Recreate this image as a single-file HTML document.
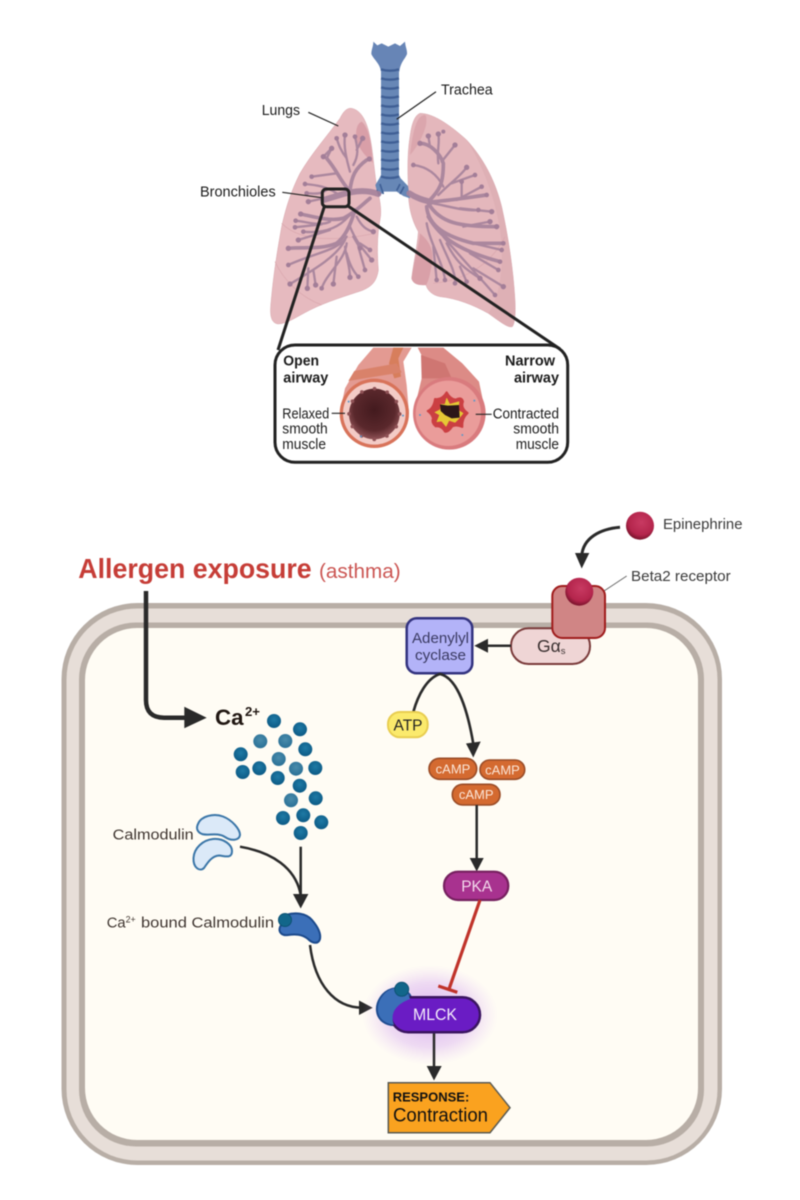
<!DOCTYPE html>
<html lang="en">
<head>
<meta charset="utf-8">
<title>Asthma airway signalling</title>
<style>
html,body{margin:0;padding:0;background:#fff;width:800px;height:1200px;overflow:hidden}
svg{display:block}
text{font-family:"Liberation Sans",sans-serif;fill:#1c1c1c}
.soft{filter:blur(.55px)}
.softer{filter:blur(.4px)}
</style>
</head>
<body>
<svg xmlns="http://www.w3.org/2000/svg" width="800" height="1200" viewBox="0 0 800 1200">
<defs>
<radialGradient id="glow" cx="50%" cy="50%" r="50%">
<stop offset="0" stop-color="#b56bec" stop-opacity=".55"/>
<stop offset=".65" stop-color="#c78cf0" stop-opacity=".3"/>
<stop offset="1" stop-color="#d9b0f5" stop-opacity="0"/>
</radialGradient>
<radialGradient id="red" cx="55%" cy="38%" r="60%">
<stop offset="0" stop-color="#c83a62"/>
<stop offset=".75" stop-color="#b4254c"/>
<stop offset="1" stop-color="#80152f"/>
</radialGradient>
<radialGradient id="ca" cx="50%" cy="40%" r="60%">
<stop offset="0" stop-color="#1f7aa5"/>
<stop offset="1" stop-color="#0c5a85"/>
</radialGradient>
<radialGradient id="cal" cx="50%" cy="40%" r="60%">
<stop offset="0" stop-color="#4a8cab"/>
<stop offset="1" stop-color="#2a7096"/>
</radialGradient>
<radialGradient id="lumen" cx="50%" cy="42%" r="58%">
<stop offset="0" stop-color="#431a1e"/>
<stop offset=".7" stop-color="#5a282c"/>
<stop offset="1" stop-color="#8f5256"/>
</radialGradient>
</defs>

<!-- LUNGS -->
<g class="softer">
<g transform="translate(180 30) scale(.33333)">
<path d="M515 235 C540 240 555 265 565 300 C578 350 580 400 590 470 C600 510 606 540 600 570 C590 620 592 680 595 720 C590 755 575 770 545 782 C500 797 440 815 390 840 C350 860 325 880 295 882 C275 880 270 860 272 830 C278 760 285 700 305 590 C318 530 335 480 360 430 C395 370 440 320 480 265 C490 245 500 233 515 235Z" fill="#e6babf" stroke="#d8a8ae" stroke-width="1.5"/>
<path d="M720 250 C760 250 810 285 860 330 C910 385 945 450 965 530 C985 620 1000 720 1005 810 C1007 850 1005 880 997 890 C985 895 960 875 925 850 C880 825 830 805 780 800 C755 795 742 780 738 765 C720 765 700 765 695 745 C700 700 712 650 715 605 C695 570 685 530 685 480 C683 420 682 370 690 320 C695 280 705 255 720 250Z" fill="#e4b7bc" stroke="#d8a8ae" stroke-width="1.5"/>
<path d="M860 330 C910 385 945 450 965 530 C985 620 1000 720 1005 810 C1007 850 1005 880 997 890 C985 895 960 875 925 850 C960 800 975 700 960 600 C945 500 905 400 860 330Z" fill="#dcacb2" opacity=".7"/>
<path d="M545 275 C565 290 575 340 578 398 C565 385 540 365 530 330 C525 300 532 280 545 275Z" fill="#d99fa8"/>
<path d="M735 255 C715 255 700 285 690 375 C705 360 730 320 738 285 C740 270 740 258 735 255Z" fill="#dba6ad"/>
<path d="M720 610 C745 630 765 660 755 705 C750 735 745 755 738 765 C720 765 700 765 695 745 C700 700 715 660 720 610Z" fill="#d9a0a8"/>
<path d="M305 580 C350 625 440 640 585 610 M285 695 C310 750 360 800 425 825 M975 620 C940 690 870 750 760 760" fill="none" stroke="#d9a6ad" stroke-width="2"/>

<!-- trachea -->
<path d="M603 120 L657 120 L657 435 L662 445 L684 468 L690 505 L670 498 L650 485 L612 485 L595 500 L586 465 L598 445 L603 435Z" fill="#6787b6"/>
<path d="M580 35 L592 46 L605 40 L625 50 L645 40 L660 48 L675 35 C676 50 682 60 681 72 C675 88 662 95 658 125 L603 125 C600 100 582 90 574 72 C574 58 580 50 580 35Z" fill="#6785b6"/>
<g fill="none" stroke="#3f5f95" stroke-width="7">
<path d="M603 118 Q630 126 657 118"/><path d="M603 145 Q630 153 657 145"/><path d="M603 172 Q630 180 657 172"/><path d="M603 199 Q630 207 657 199"/><path d="M603 226 Q630 234 657 226"/><path d="M603 253 Q630 261 657 253"/><path d="M603 280 Q630 288 657 280"/><path d="M603 307 Q630 315 657 307"/><path d="M603 334 Q630 342 657 334"/><path d="M603 361 Q630 369 657 361"/><path d="M603 388 Q630 396 657 388"/><path d="M603 415 Q630 423 657 415"/><path d="M603 440 Q630 448 657 440"/>
<path d="M600 462 L610 492 M590 480 L600 496 M660 462 L650 482 M672 470 L660 492" stroke-width="5"/>
</g>

<!-- bronchial tree -->
<g fill="none" stroke="#a5829b" stroke-linecap="round" opacity=".9">
<path d="M595 492 C560 478 520 482 480 495 L430 510" stroke-width="18"/>
<path d="M688 490 C710 505 730 510 752 516" stroke-width="18"/>
<path d="M570 505 C540 530 520 550 490 565 C450 575 400 560 362 552 M525 540 C510 590 495 620 470 640 C420 660 370 650 325 655 M510 480 C515 440 525 415 560 390 M505 478 C480 450 470 420 440 385" stroke-width="11"/>
<path d="M745 515 C780 480 790 460 790 400 C780 370 750 340 720 340 M740 530 C745 590 800 620 880 640 L970 640 M745 560 C780 620 830 660 960 695 M745 520 C780 580 840 590 950 590 M760 515 C820 510 880 500 920 495" stroke-width="11"/>
<g stroke-width="7">
<path d="M510 425 C500 390 490 350 495 315 M500 385 C480 360 475 340 470 325 M520 405 C540 370 530 345 525 320 M530 360 L548 325 M470 430 L395 440 M440 385 L455 355 L430 380 M470 490 C440 470 410 465 375 462 M440 480 C420 495 400 490 380 490 M430 505 L385 515"/>
<path d="M450 575 C420 590 380 575 347 572 M425 583 L345 592 M505 560 C470 600 420 610 370 605 M450 600 L355 630 M500 620 C480 660 400 670 325 705 M495 630 C470 680 400 720 330 762 M385 715 L382 775 M400 720 L407 765 M500 640 C495 690 440 730 425 775 M470 680 L460 762 M495 650 C500 690 510 710 510 742 M500 670 C510 710 525 730 535 740 M530 560 C545 590 560 600 580 605 M510 590 C530 640 560 670 575 690 M540 640 L570 660 M535 650 L555 720 M520 620 L540 655"/>
<path d="M790 470 C770 430 740 410 700 405 M775 400 C770 360 780 340 775 312 M750 350 L745 318 M785 395 L825 345 M775 495 C820 450 840 440 860 412 M815 460 L885 435 M830 510 L905 470 M845 505 L845 455 M760 520 C810 530 860 545 895 540 M840 535 L935 545 M850 590 L930 575 M880 640 L965 660 M870 670 L955 720 M790 620 C840 680 880 720 945 795 M880 715 L970 770 M800 640 C830 700 860 720 900 745 M780 630 C800 680 830 730 825 760 M840 710 L860 755 M740 580 C750 640 790 700 795 750 M760 650 L770 750"/>
</g>
</g>
<g fill="#a37e98">
<circle cx="495" cy="315" r="8"/><circle cx="470" cy="325" r="7"/><circle cx="525" cy="320" r="7"/><circle cx="548" cy="325" r="8"/><circle cx="568" cy="387" r="8"/><circle cx="455" cy="355" r="8"/><circle cx="430" cy="380" r="8"/><circle cx="395" cy="440" r="7"/><circle cx="375" cy="462" r="7"/><circle cx="380" cy="490" r="7"/><circle cx="385" cy="515" r="8"/><circle cx="362" cy="552" r="8"/><circle cx="347" cy="572" r="7"/><circle cx="345" cy="592" r="7"/><circle cx="370" cy="605" r="7"/><circle cx="355" cy="630" r="8"/><circle cx="325" cy="655" r="8"/><circle cx="325" cy="705" r="7"/><circle cx="330" cy="762" r="8"/><circle cx="382" cy="775" r="8"/><circle cx="407" cy="765" r="8"/><circle cx="425" cy="775" r="7"/><circle cx="460" cy="762" r="8"/><circle cx="510" cy="742" r="8"/><circle cx="535" cy="740" r="7"/><circle cx="555" cy="720" r="7"/><circle cx="575" cy="690" r="8"/><circle cx="570" cy="660" r="7"/><circle cx="580" cy="605" r="8"/><circle cx="540" cy="655" r="7"/>
<circle cx="700" cy="405" r="7"/><circle cx="720" cy="340" r="8"/><circle cx="745" cy="318" r="8"/><circle cx="775" cy="312" r="8"/><circle cx="790" cy="305" r="6"/><circle cx="825" cy="345" r="8"/><circle cx="860" cy="412" r="8"/><circle cx="885" cy="435" r="7"/><circle cx="845" cy="455" r="7"/><circle cx="905" cy="470" r="7"/><circle cx="920" cy="495" r="7"/><circle cx="895" cy="540" r="7"/><circle cx="935" cy="545" r="8"/><circle cx="930" cy="575" r="8"/><circle cx="950" cy="590" r="8"/><circle cx="970" cy="640" r="7"/><circle cx="965" cy="660" r="7"/><circle cx="960" cy="695" r="7"/><circle cx="955" cy="720" r="7"/><circle cx="970" cy="770" r="8"/><circle cx="945" cy="795" r="7"/><circle cx="900" cy="745" r="8"/><circle cx="860" cy="755" r="7"/><circle cx="825" cy="760" r="7"/><circle cx="795" cy="750" r="7"/><circle cx="770" cy="750" r="7"/>
</g>
</g>

<!-- pointers -->
<g fill="none" stroke="#222">
<path d="M308.3 112.3 L338.3 126" stroke-width="1.2"/>
<path d="M436 91.7 L396.7 119.3" stroke-width="1.2"/>
<path d="M282.3 192.3 L321.7 197.7" stroke-width="1.2"/>
<path d="M324.3 206.7 L278 350 M348 206 L560 349" stroke-width="3"/>
<rect x="322.3" y="189" width="26.7" height="17.7" rx="4" stroke-width="3"/>
</g>
<text x="261.7" y="115" font-size="15" textLength="38.3" lengthAdjust="spacingAndGlyphs">Lungs</text>
<text x="441" y="94.3" font-size="15" textLength="51.7" lengthAdjust="spacingAndGlyphs">Trachea</text>
<text x="200" y="196.7" font-size="15" textLength="75.7" lengthAdjust="spacingAndGlyphs">Bronchioles</text>

<!-- INSET -->
<rect x="275" y="345" width="292.7" height="117.3" rx="20" fill="#fff" stroke="#222" stroke-width="3"/>
<g transform="translate(265 335) scale(.33333)">
<path d="M325 38 L440 38 L415 80 L425 150 L432 235 L224 235 L240 160 L280 90Z" fill="#e39a92"/>
<path d="M385 38 L415 38 L400 70 L408 125 L388 130 L372 85Z" fill="#d77e5c"/>
<path d="M268 108 L395 85 L410 112 L250 138Z" fill="#d9826a"/>
<circle cx="328" cy="235" r="104" fill="#d8735a"/>
<circle cx="328" cy="235" r="94" fill="#f3cbc6"/>
<circle cx="328" cy="237" r="76" fill="url(#lumen)"/>
<circle cx="328" cy="237" r="76" fill="none" stroke="#8f5256" stroke-width="11" stroke-linecap="round" stroke-dasharray="0 39.8"/>
<path d="M458 38 L535 38 L592 85 L642 140 L662 235 L445 235 L470 130 L482 85Z" fill="#dc8b86"/>
<path d="M468 60 L540 85 L560 130 L470 130Z" fill="#cf7672"/>
<circle cx="553" cy="235" r="109" fill="#d97b7e"/>
<circle cx="550" cy="235" r="98" fill="#ea9c9a"/>
<path d="M545 172 Q556 192 572 194 Q590 184 594 200 Q586 218 608 234 Q590 250 592 276 Q574 268 562 274 Q550 292 540 290 Q530 272 512 274 Q498 262 504 250 Q500 236 488 228 Q506 220 510 192 Q530 196 545 172Z" fill="#cb3f42" stroke="#cb3f42" stroke-width="6" stroke-linejoin="round"/>
<path d="M545 190 L554 208 L582 200 L580 226 L594 235 L582 250 L570 262 L552 256 L543 274 L530 258 L516 260 L524 240 L510 232 L526 224 L528 208 L540 208Z" fill="#e5c835" stroke="#e5c835" stroke-width="2" stroke-linejoin="round"/>
<path d="M525 208 L548 212 L582 210 L584 248 L560 250 L540 240 L527 228Z" fill="#2c1718"/>
<g fill="#5d97c8">
<circle cx="251" cy="200" r="3"/><circle cx="414" cy="242" r="3"/><circle cx="288" cy="304" r="3"/><circle cx="628" cy="197" r="3"/><circle cx="465" cy="240" r="3"/><circle cx="592" cy="300" r="3"/>
</g>
</g>
<path d="M331.7 413.3 L345 413.3 M475.7 414.3 L491.7 414.3" stroke="#222" stroke-width="1.2" fill="none"/>
<g font-weight="bold" font-size="15">
<text x="283.3" y="365.7" textLength="35.7" lengthAdjust="spacingAndGlyphs">Open</text>
<text x="283.3" y="382.7" textLength="45" lengthAdjust="spacingAndGlyphs">airway</text>
<text x="505" y="365.7" textLength="50" lengthAdjust="spacingAndGlyphs">Narrow</text>
<text x="514" y="382.7" textLength="45" lengthAdjust="spacingAndGlyphs">airway</text>
</g>
<g font-size="14.5">
<text x="282.3" y="418.3" textLength="47" lengthAdjust="spacingAndGlyphs">Relaxed</text>
<text x="282.3" y="433.7" textLength="45.4" lengthAdjust="spacingAndGlyphs">smooth</text>
<text x="282.3" y="449" textLength="43.7" lengthAdjust="spacingAndGlyphs">muscle</text>
<text x="492.7" y="418.3" textLength="66.3" lengthAdjust="spacingAndGlyphs">Contracted</text>
<text x="513.3" y="433.7" textLength="45.7" lengthAdjust="spacingAndGlyphs">smooth</text>
<text x="515.7" y="449" textLength="43.3" lengthAdjust="spacingAndGlyphs">muscle</text>
</g>
</g>

<!-- CELL -->
<g class="soft">
<rect x="61.5" y="603" width="660.5" height="562" rx="76" fill="#b8aea6"/>
<rect x="66.5" y="608.5" width="651" height="552" rx="71" fill="#e7ded8"/>
<rect x="79" y="622.5" width="625" height="524" rx="57" fill="#b8aea6"/>
<rect x="85" y="628" width="613" height="512" rx="52" fill="#fffcf4"/>

<!-- Allergen -->
<text x="78.3" y="578" font-size="27.5" font-weight="bold" style="fill:#c63d37" textLength="233.4" lengthAdjust="spacingAndGlyphs">Allergen exposure</text>
<text x="319" y="578" font-size="20.5" style="fill:#cb5552" textLength="81.7" lengthAdjust="spacingAndGlyphs">(asthma)</text>
<path d="M146 591 L146 700 Q146 717.7 164 717.7 L188 717.7" fill="none" stroke="#2a2a2a" stroke-width="4.5"/>
<polygon points="184.3,706.7 184.3,728.3 206.7,717.7" fill="#2a2a2a"/>
<text x="215" y="725" font-size="22" font-weight="bold" style="fill:#211712" textLength="28.5" lengthAdjust="spacingAndGlyphs">Ca</text>
<text x="245" y="716" font-size="12.5" font-weight="bold" style="fill:#211712" textLength="15" lengthAdjust="spacingAndGlyphs">2+</text>

<!-- Ca dots -->
<g fill="url(#ca)">
<circle cx="274" cy="721" r="7"/><circle cx="300" cy="729.3" r="7"/><circle cx="305.3" cy="749.3" r="7"/><circle cx="240.7" cy="754.3" r="7"/><circle cx="242.7" cy="772" r="7"/><circle cx="259.3" cy="768.3" r="7"/><circle cx="277.7" cy="778" r="7"/><circle cx="315.3" cy="768" r="7"/><circle cx="299.7" cy="785.7" r="7"/><circle cx="315.7" cy="798.3" r="7"/><circle cx="283" cy="818" r="7"/><circle cx="303.3" cy="815.3" r="7"/><circle cx="321.3" cy="822.3" r="7"/><circle cx="300.7" cy="833" r="7"/>
</g>
<g fill="url(#cal)">
<circle cx="260.3" cy="741.3" r="7"/><circle cx="285.3" cy="741" r="7"/><circle cx="278.7" cy="759" r="7"/><circle cx="296" cy="768.7" r="7"/><circle cx="291" cy="800.3" r="7"/>
</g>

<!-- Calmodulin -->
<text x="112.7" y="839.3" font-size="15" style="fill:#3f3530" textLength="81" lengthAdjust="spacingAndGlyphs">Calmodulin</text>
<path d="M198 824 C201 816 214 813 223 816.5 C232 820 240 829 240 835 C239 841 231 841 225 837 C217 832 208 836 202 834 C197 832 196 828 198 824Z" fill="#dbe9f8" stroke="#3b76a8" stroke-width="2"/>
<path d="M193.5 858 C194 848 203 840 213 839 C224 838 232 845 232 851 C232 859 225 856 219 855.5 C212 856 208 862 204 868 C200 872 193 868 193.5 858Z" fill="#dbe9f8" stroke="#3b76a8" stroke-width="2"/>
<path d="M240 846.7 C272 852 296 868 300.7 895" fill="none" stroke="#2a2a2a" stroke-width="2.5"/>
<path d="M300.7 846.7 L300.7 896" fill="none" stroke="#2a2a2a" stroke-width="2.5"/>
<polygon points="293,894 308.4,894 300.7,908.5" fill="#2a2a2a"/>

<!-- Ca bound -->
<text x="106.7" y="927.3" font-size="15" style="fill:#3f3530" textLength="29" lengthAdjust="spacingAndGlyphs">Ca<tspan font-size="9" dy="-5">2+</tspan></text>
<text x="141" y="927.3" font-size="15" style="fill:#3f3530" textLength="133" lengthAdjust="spacingAndGlyphs">bound Calmodulin</text>
<path d="M286 915 C295 912 306 913 312 920 C318 927 321 934 320 939 C318 945 312 943 308 939 C302 934 295 934 288 935 C282 936 278 932 280 927Z" fill="#3b6fb8" stroke="#1c4a8c" stroke-width="2"/>
<circle cx="285" cy="920" r="6.5" fill="#12668a" stroke="#0d5273" stroke-width="1"/>
<path d="M310 945 C315 985 335 1007.7 362 1007.7" fill="none" stroke="#2a2a2a" stroke-width="2.5"/>
<polygon points="359,1000.5 359,1015 372.7,1007.7" fill="#2a2a2a"/>

<!-- Epinephrine / receptor -->
<path d="M620 527.3 C600 529 583 538 581.7 556" fill="none" stroke="#2a2a2a" stroke-width="3"/>
<polygon points="575,553 589.3,553 581.7,568.5" fill="#2a2a2a"/>
<circle cx="640" cy="525.7" r="14" fill="url(#red)"/>
<text x="663" y="529" font-size="15" style="fill:#3a3a3a" textLength="79.5" lengthAdjust="spacingAndGlyphs">Epinephrine</text>
<path d="M604 591 L626.7 576" stroke="#666" stroke-width="1" fill="none"/>
<text x="631" y="581" font-size="15" style="fill:#3a3a3a" textLength="99.7" lengthAdjust="spacingAndGlyphs">Beta2 receptor</text>
<rect x="511" y="628.3" width="79" height="35.7" rx="17.5" fill="#efd5d5" stroke="#7a3a3a" stroke-width="2"/>
<text x="537" y="652" font-size="17.5" style="fill:#3a3030">Gα<tspan font-size="9.5" dy="2">s</tspan></text>
<rect x="552.3" y="586" width="52.7" height="52" rx="10" fill="#d08585" stroke="#a01c1c" stroke-width="2"/>
<circle cx="579.3" cy="591.7" r="14" fill="url(#red)"/>

<path d="M511 645.7 L484 645.7" stroke="#2a2a2a" stroke-width="2.5" fill="none"/>
<polygon points="488,638.7 488,652.7 474.3,645.7" fill="#2a2a2a"/>

<!-- Adenylyl cyclase -->
<rect x="406.7" y="618.3" width="65.6" height="55" rx="10" fill="#b3b3f8" stroke="#33337f" stroke-width="2.5"/>
<text x="412" y="643" font-size="15" style="fill:#3a3a62" textLength="57" lengthAdjust="spacingAndGlyphs">Adenylyl</text>
<text x="415" y="660" font-size="15" style="fill:#3a3a62" textLength="51" lengthAdjust="spacingAndGlyphs">cyclase</text>

<!-- ATP path -->
<path d="M413.3 712 C418 695 427 678 440 674 C458 678 468 712 473.5 745" fill="none" stroke="#2a2a2a" stroke-width="2.6"/>
<polygon points="466,743.5 480.7,741.5 473.3,757.5" fill="#2a2a2a"/>
<rect x="388" y="712" width="39.7" height="25.3" rx="12" fill="#fbea6c" stroke="#e8cd50" stroke-width="2"/>
<text x="408" y="730.5" font-size="15.5" text-anchor="middle" style="fill:#222">ATP</text>

<!-- cAMP -->
<g fill="#d46a30" stroke="#9a4c27" stroke-width="1.6">
<rect x="429" y="758.3" width="47.7" height="21" rx="10.5"/>
<rect x="480" y="760" width="44.7" height="19.3" rx="9.6"/>
<rect x="452.3" y="784.3" width="47.7" height="20.7" rx="10.3"/>
</g>
<g font-size="13" text-anchor="middle">
<text x="453" y="773.5" style="fill:#fbe6d8">cAMP</text>
<text x="502.5" y="774.5" style="fill:#fbe6d8">cAMP</text>
<text x="476.2" y="799" style="fill:#fbe6d8">cAMP</text>
</g>
<path d="M476.7 805 L476.7 860" stroke="#2a2a2a" stroke-width="2.5" fill="none"/>
<polygon points="469.7,858 483.7,858 476.7,871.5" fill="#2a2a2a"/>

<!-- glow first so the inhibition line sits on top -->
<ellipse cx="430" cy="1015" rx="68" ry="50" fill="url(#glow)"/>

<!-- PKA -->
<rect x="444" y="871.7" width="64.3" height="28.3" rx="14" fill="#a8328f" stroke="#76205f" stroke-width="2.2"/>
<text x="476.7" y="891.5" font-size="15.5" text-anchor="middle" style="fill:#f3d9ec">PKA</text>
<path d="M480 900 L449.3 988.3 M438.3 986 L457.3 992.3" stroke="#c0332a" stroke-width="3.2" fill="none"/>

<!-- MLCK -->
<path d="M434 1032 L434 1068" stroke="#2a2a2a" stroke-width="2.5" fill="none"/>
<polygon points="426.7,1066 441.7,1066 434,1080.5" fill="#2a2a2a"/>
<path d="M392 989 C382 992 376 1002 377 1011 C378 1020 386 1026 396 1025 L412 1000 C410 992 402 986 392 989Z" fill="#3b6fb8" stroke="#1e4c90" stroke-width="2"/>
<rect x="390.7" y="997.3" width="89.3" height="35" rx="17.5" fill="#6a1cc4" stroke="#3a1560" stroke-width="2.5"/>
<path d="M380 1000 C376 1010 380 1022 394 1025 C390 1015 394 1005 410 999 C408 990 400 986 392 989 C386 991 383 995 380 1000Z" fill="#3b6fb8"/>
<circle cx="401.7" cy="989.3" r="7" fill="#12668a" stroke="#0d5273" stroke-width="1"/>
<text x="435" y="1020" font-size="16.5" text-anchor="middle" style="fill:#f4ecfb" textLength="44" lengthAdjust="spacingAndGlyphs">MLCK</text>

<!-- Response -->
<polygon points="388.3,1082.7 490,1082.7 510,1107.7 490,1132.7 388.3,1132.7" fill="#faa21f" stroke="#5a5a52" stroke-width="1.5"/>
<text x="392.7" y="1101.7" font-size="13" font-weight="bold" style="fill:#111" textLength="76.6" lengthAdjust="spacingAndGlyphs">RESPONSE:</text>
<text x="393" y="1121.7" font-size="19" style="fill:#111" textLength="95" lengthAdjust="spacingAndGlyphs">Contraction</text>
</g>
</svg>
</body>
</html>
